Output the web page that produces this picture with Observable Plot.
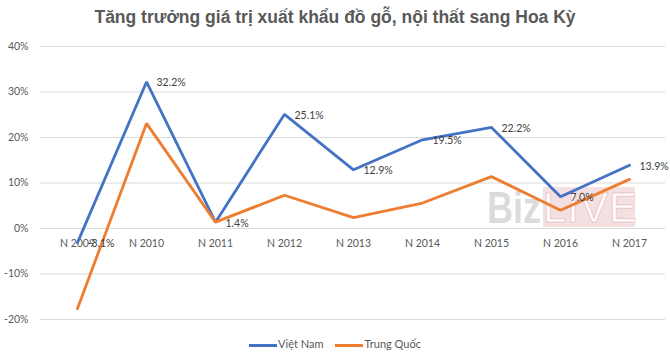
<!DOCTYPE html>
<html>
<head>
<meta charset="utf-8">
<script src="https://cdn.jsdelivr.net/npm/d3@7"></script>
<script src="https://cdn.jsdelivr.net/npm/@observablehq/plot@0.6"></script>
<style>
  html, body { margin: 0; padding: 0; background: #fff; }
  body { width: 670px; height: 359px; position: relative; overflow: hidden; font-family: Lato, "Open Sans", sans-serif; }
  #title { height: 32px; line-height: 34px; text-align: center; font-family: "Liberation Sans", Arial, sans-serif; font-weight: bold; font-size: 17.5px; color: #595959; letter-spacing: 0; }
  #chart { position: relative; z-index: 1; }
  #legend { position: absolute; top: 337px; left: 0; width: 670px; text-align: center; font-size: 11px; color: #595959; }
  #legend span.item { display: inline-block; margin: 0 6px; }
  #legend span.sw { display: inline-block; width: 28px; height: 3px; vertical-align: middle; margin-right: 1px; }
  #wm { position: absolute; left: 487px; top: 187px; height: 40px; z-index: 0; pointer-events: none; white-space: nowrap; }
  #wm .biz { display: inline-block; width: 54px; height: 40px; overflow: visible; font-family: "Liberation Sans", sans-serif; font-weight: bold; font-size: 44px; line-height: 42px; color: rgba(140,140,140,0.32); transform: scaleX(0.82); transform-origin: left center; vertical-align: top; }
  #wm .live { display: inline-block; width: 92px; height: 40px; margin-left: 2px; background: rgba(225,160,165,0.33); color: #fff; font-family: "Liberation Sans", sans-serif; font-size: 42px; line-height: 42px; text-align: center; -webkit-text-stroke: 1px rgba(220,150,155,0.45); vertical-align: top; letter-spacing: 1px; }
</style>
</head>
<body>
<div id="title">Tăng trưởng giá trị xuất khẩu đồ gỗ, nội thất sang Hoa Kỳ</div>
<div id="wm"><span class="biz">Biz</span><span class="live">LIVE</span></div>
<div id="chart"></div>
<div id="legend"></div>
<script>
const years = ["N 2009","N 2010","N 2011","N 2012","N 2013","N 2014","N 2015","N 2016","N 2017"];
const vietnam = [-3.1, 32.2, 1.4, 25.1, 12.9, 19.5, 22.2, 7.0, 13.9];
const china = [-17.6, 23.1, 1.4, 7.3, 2.4, 5.6, 11.4, 4.0, 10.8];
const seriesNames = ["Việt Nam", "Trung Quốc"];
const seriesColors = ["#4472C4", "#ED7D31"];
const yTicks = [-20, -10, 0, 10, 20, 30, 40];

const vnData = years.map((y, i) => ({year: y, value: vietnam[i], series: seriesNames[0]}));
const cnData = years.map((y, i) => ({year: y, value: china[i], series: seriesNames[1]}));

const fontFam = "Lato, 'Open Sans', sans-serif";
const chart = Plot.plot({
  width: 670,
  height: 305,
  marginTop: 14,
  marginBottom: 18,
  marginLeft: 40,
  marginRight: 5,
  style: {fontFamily: fontFam, fontSize: "10.5px", color: "#595959", background: "transparent"},
  x: {type: "point", domain: years, padding: 0.5, axis: null},
  y: {domain: [-20, 40], ticks: yTicks, tickFormat: d => d + "%", label: null},
  marks: [
    Plot.gridY(yTicks, {stroke: "#d9d9d9", strokeOpacity: 1, strokeWidth: 1}),
    Plot.axisY(yTicks, {tickSize: 0, tickPadding: 12, tickFormat: d => d + "%", label: null, fill: "#595959", fontSize: 10.5}),
    Plot.text(years, {x: d => d, y: () => 0, dy: 15, text: d => d, fill: "#595959", fontSize: 10.5}),
    Plot.line(vnData, {x: "year", y: "value", stroke: seriesColors[0], strokeWidth: 2.8, strokeLinejoin: "miter"}),
    Plot.line(cnData, {x: "year", y: "value", stroke: seriesColors[1], strokeWidth: 2.8, strokeLinejoin: "miter"}),
    Plot.text(vnData, {x: "year", y: "value", text: d => d.value.toFixed(1) + "%", textAnchor: "start", dx: 10, dy: 1, fill: "#404040", fontSize: 10.5})
  ]
});
document.getElementById("chart").appendChild(chart);

const legend = document.getElementById("legend");
seriesNames.forEach((n, i) => {
  const s = document.createElement("span");
  s.className = "item";
  s.innerHTML = `<span class="sw" style="background:${seriesColors[i]}"></span>${n}`;
  legend.appendChild(s);
});
</script>
</body>
</html>
